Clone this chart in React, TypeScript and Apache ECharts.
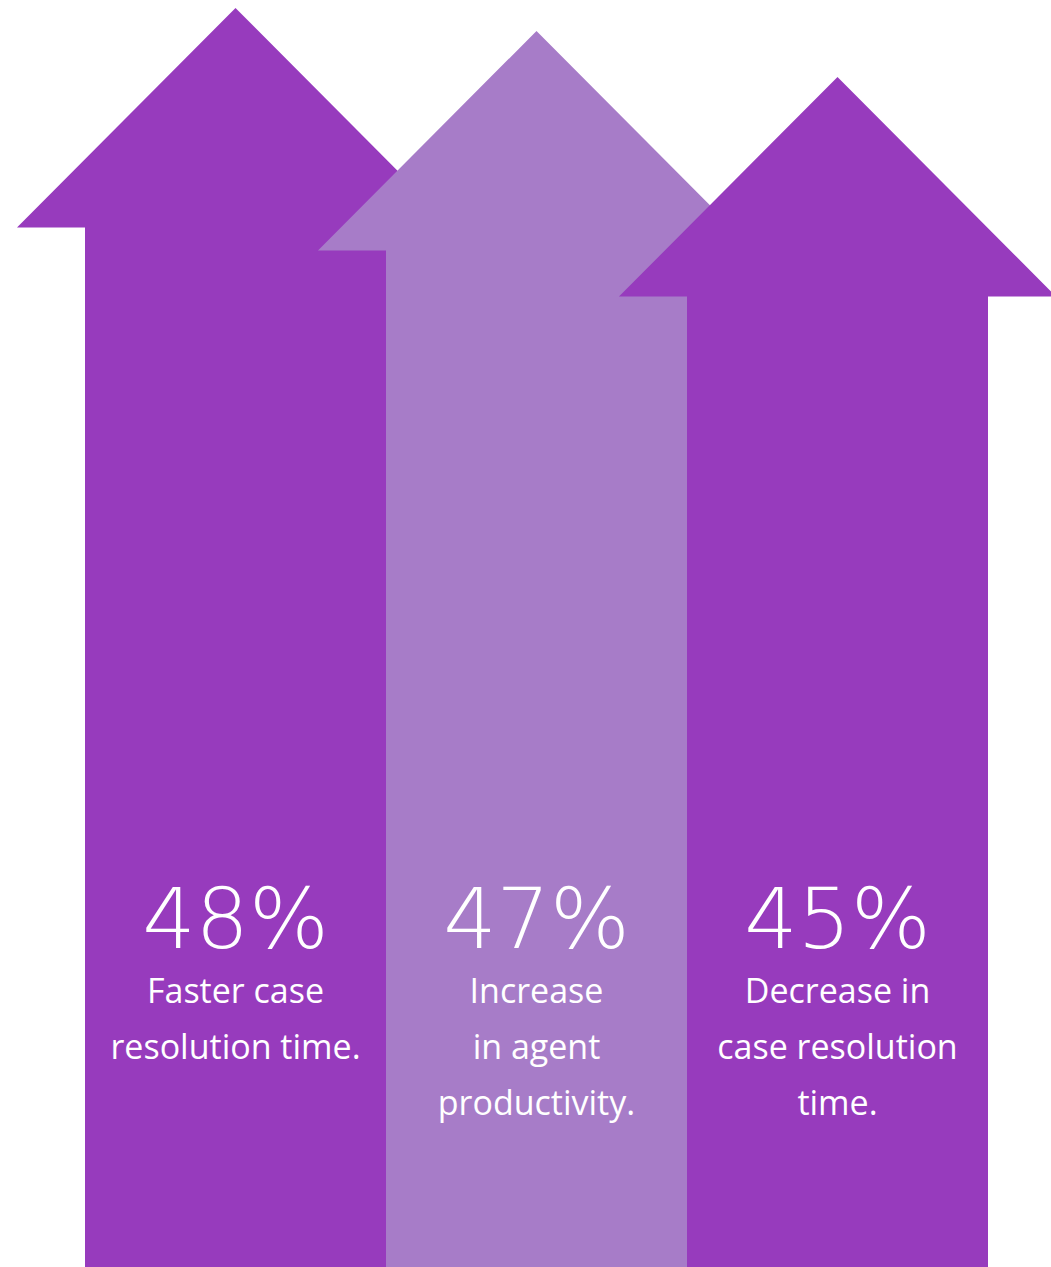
import React, { useEffect, useRef } from "react";
import * as echarts from "echarts";

const categories = ["Faster case resolution time.", "Increase in agent productivity.", "Decrease in case resolution time."];
const values = [48, 47, 45];
const valueLabels = ["48%", "47%", "45%"];
const labelLines = [
  ["Faster case", "resolution time."],
  ["Increase", "in agent", "productivity."],
  ["Decrease in", "case resolution", "time."],
];
const colors = ["#973BBD", "#A77CC8", "#973BBD"];

export default function App() {
  const ref = useRef<HTMLDivElement>(null);
  useEffect(() => {
    if (!ref.current) return;
    const chart = echarts.init(ref.current, undefined, { renderer: "svg" });
    chart.setOption({
      animation: false,
      backgroundColor: "#ffffff",
      grid: { left: 85, right: 63, top: 8, bottom: 155 },
      xAxis: { type: "category", data: categories, show: false, boundaryGap: true },
      yAxis: { type: "value", min: 0, max: 48, show: false },
      series: [
        {
          type: "custom",
          data: values.map((v, i) => [i, v]),
          renderItem: (params: any, api: any) => {
            const idx = params.dataIndex;
            const tip = api.coord([api.value(0), api.value(1)]);
            const bw = api.size([1, 0])[0];
            const cx = tip[0];
            const ty = tip[1];
            const half = bw / 2;
            const headHalf = bw * 0.726;
            const headH = headHalf + 1;
            const bottom = api.getHeight();
            const children: any[] = [
              {
                type: "polygon",
                shape: {
                  points: [
                    [cx, ty],
                    [cx + headHalf, ty + headH],
                    [cx + half, ty + headH],
                    [cx + half, bottom],
                    [cx - half, bottom],
                    [cx - half, ty + headH],
                    [cx - headHalf, ty + headH],
                  ],
                },
                style: { fill: colors[idx] },
              },
              {
                type: "text",
                style: {
                  text: valueLabels[idx],
                  x: cx,
                  y: 919,
                  textAlign: "center",
                  textVerticalAlign: "middle",
                  fill: "#ffffff",
                  font: "200 84px 'DejaVu Sans'",
                },
              },
            ];
            labelLines[idx].forEach((line, j) => {
              children.push({
                type: "text",
                style: {
                  text: line,
                  x: cx,
                  y: 990 + j * 56,
                  textAlign: "center",
                  textVerticalAlign: "middle",
                  fill: "#ffffff",
                  font: "34px 'Open Sans'",
                },
              });
            });
            return { type: "group", children };
          },
        },
      ],
    });
    return () => chart.dispose();
  }, []);
  return (
    <div
      ref={ref}
      style={{ position: "fixed", left: 0, top: 0, width: 1051, height: 1267 }}
    />
  );
}
